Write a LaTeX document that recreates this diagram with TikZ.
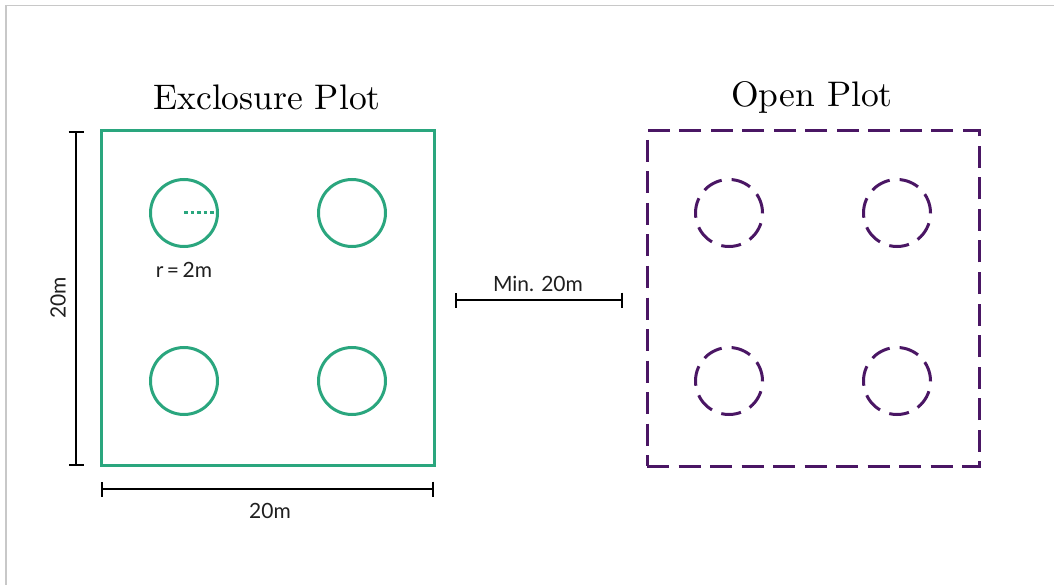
\documentclass[tikz,border=0pt]{standalone}
\usepackage{fontspec}
\newfontfamily\labfont{Lato}
\newfontfamily\titlefont{lmroman10-regular}[Extension=.otf]
\usetikzlibrary{arrows.meta}
\definecolor{exgreen}{RGB}{42,166,126}
\definecolor{oppurple}{RGB}{74,22,100}
\definecolor{framegray}{RGB}{200,200,200}
\tikzset{
  exbox/.style={draw=exgreen, line width=3pt, minimum width=333pt, minimum height=334pt, inner sep=0pt},
  opbox/.style={draw=oppurple, line width=3pt, dash pattern=on 22pt off 9.5pt, minimum width=332pt, minimum height=335pt, inner sep=0pt},
  excirc/.style={circle, draw=exgreen, line width=3pt, minimum size=67pt, inner sep=0pt},
  opcirc/.style={circle, draw=oppurple, line width=3pt, dash pattern=on 20pt off 10pt, minimum size=67pt, inner sep=0pt},
  title/.style={font=\titlefont\fontsize{35.5}{40}\selectfont},
  dimlabel/.style={font=\labfont\fontsize{21}{25}\selectfont, text=black!88},
  dimline/.style={line width=2pt, {Bar[width=15pt,line width=2pt]}-{Bar[width=15pt,line width=2pt]}},
  radius/.style={draw=exgreen, line width=3pt, dash pattern=on 3.5pt off 3pt}
}
\begin{document}
\begin{tikzpicture}[x=1pt, y=-1pt]
  \useasboundingbox (0,0) rectangle (1054,585);
  % outer frame edges
  \draw[framegray, line width=1.5pt] (6,585) -- (6,5.5) -- (1054,5.5);

  % exclosure plot
  \node[title] (extitle) at (267,97) {Exclosure Plot};
  \node[exbox] (ex) at (267.5,298) {};
  \node[excirc] (e1) at (184,213) {};
  \node[excirc] (e2) at (352,213) {};
  \node[excirc] (e3) at (184,381) {};
  \node[excirc] (e4) at (352,381) {};
  \draw[radius] (e1.center) -- (e1.east);
  \node[dimlabel] (rlab) at (184,270) {r\,=\,2m};

  % open plot
  \node[title] (optitle) at (812,97) {Open Plot};
  \node[opbox] (op) at (813,298.5) {};
  \node[opcirc] (o1) at (729,213) {};
  \node[opcirc] (o2) at (897,213) {};
  \node[opcirc] (o3) at (729,381) {};
  \node[opcirc] (o4) at (897,381) {};

  % dimensions
  \coordinate (vtop) at (76,131);
  \coordinate (vbot) at (76,466);
  \draw[dimline] (vtop) -- (vbot);
  \node[dimlabel, rotate=90] (vlab) at (58,298) {20m};

  \coordinate (hleft) at (101,489);
  \coordinate (hright) at (434,489);
  \draw[dimline] (hleft) -- (hright);
  \node[dimlabel] (hlab) at (270,511) {20m};

  \coordinate (gleft) at (455,300);
  \coordinate (gright) at (623,300);
  \draw[dimline] (gleft) -- (gright);
  \node[dimlabel] (glab) at (538,284) {Min. 20m};
\end{tikzpicture}
\end{document}
